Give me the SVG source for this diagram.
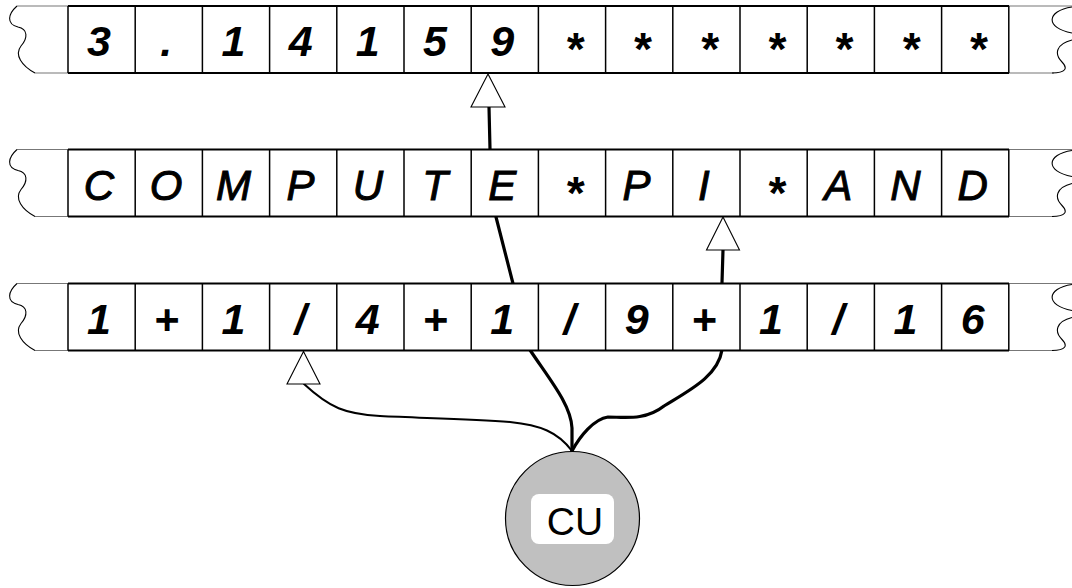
<svg xmlns="http://www.w3.org/2000/svg" width="1072" height="588" viewBox="0 0 1072 588">
<defs>
<style>
.edge{fill:none;stroke:#777;stroke-width:1.2}
.wave{fill:none;stroke:#000;stroke-width:1.1}
.bar{stroke:#000;stroke-width:2}
.d{font-family:"Liberation Sans",Arial,sans-serif;font-size:43px;font-weight:bold;font-style:italic;text-anchor:middle;fill:#000}
.l{font-family:"Liberation Sans",Arial,sans-serif;font-size:42px;font-style:italic;text-anchor:middle;fill:#000;stroke:#000;stroke-width:1}
.ast{font-family:"Liberation Sans",Arial,sans-serif;font-size:46px;font-weight:bold;font-style:italic;text-anchor:middle;fill:#000}
.conn{fill:none;stroke:#000;stroke-linecap:round;stroke-linejoin:round}
.head{fill:#fff;stroke:#000;stroke-width:1.1}
</style>
<g id="tapeShape">
<rect x="17" y="0" width="1055" height="67" fill="#fff"/>
<path class="edge" d="M17,0 L68,0 M35,67 L68,67 M1009,0 L1072,0 M1009,67 L1054,67"/>
<path class="wave" d="M17,0 C8,8 6,18 18,21 C28,23 28,32 21,40 C14,49 22,60 35,67"/>
<path class="wave" d="M1072,1 C1046,5 1045,22 1072,27 M1072,34 C1056,38 1054,48 1062,56 C1068,62 1066,67 1052,67"/>
<g fill="#fff" stroke="#000" stroke-width="1.5">
<path d="M68,0 V67 M135.2,0 V67 M202.4,0 V67 M269.6,0 V67 M336.8,0 V67 M404,0 V67 M471.2,0 V67 M538.4,0 V67 M605.6,0 V67 M672.8,0 V67 M740,0 V67 M807.2,0 V67 M874.4,0 V67 M941.6,0 V67 M1008.8,0 V67"/>
</g>
<path class="bar" d="M68,0 H1009 M68,67 H1009"/>
</g>
</defs>

<g id="connectors">
<path class="conn" stroke-width="3.2" d="M572,451 L572,428 C571,405 550,380 530,350 L496,217 C491,197 490,172 490,149 L489,107"/>
<path class="conn" stroke-width="3.2" d="M572,451 C580,436 594,419 608,417 C624,417 645,421 664,406 C690,390 718,376 722,350 L722,283 L723,250"/>
<path class="conn" stroke-width="2" d="M572,451 C558,432 540,425 510,422 C470,419 420,418 380,416 C345,414 330,408 304,384"/>
<polygon class="head" points="488,74 471,107 505,107"/>
<polygon class="head" points="723,217 706.5,250 739.5,250"/>
<polygon class="head" points="303.5,351.5 287,384 320,384"/>
</g>

<g id="tape1">
<use href="#tapeShape" x="0" y="6"/>
<text class="d" x="99" y="56">3</text>
<text class="d" x="166.2" y="56">.</text>
<text class="d" x="233.4" y="56">1</text>
<text class="d" x="300.6" y="56">4</text>
<text class="d" x="367.8" y="56">1</text>
<text class="d" x="435" y="56">5</text>
<text class="d" x="502.2" y="56">9</text>
<text class="ast" x="574" y="65">*</text>
<text class="ast" x="641.2" y="65">*</text>
<text class="ast" x="708.4" y="65">*</text>
<text class="ast" x="775.6" y="65">*</text>
<text class="ast" x="842.8" y="65">*</text>
<text class="ast" x="910" y="65">*</text>
<text class="ast" x="977.2" y="65">*</text>
</g>

<g id="tape2">
<use href="#tapeShape" x="0" y="149.5"/>
<text class="l" x="99" y="200">C</text>
<text class="l" x="166.2" y="200">O</text>
<text class="l" x="233.4" y="200">M</text>
<text class="l" x="300.6" y="200">P</text>
<text class="l" x="367.8" y="200">U</text>
<text class="l" x="435" y="200">T</text>
<text class="l" x="502.2" y="200">E</text>
<text class="ast" x="574" y="209">*</text>
<text class="l" x="636.6" y="200">P</text>
<text class="l" x="703.8" y="200">I</text>
<text class="ast" x="775.6" y="209">*</text>
<text class="l" x="838.2" y="200">A</text>
<text class="l" x="905.4" y="200">N</text>
<text class="l" x="972.6" y="200">D</text>
</g>

<g id="tape3">
<use href="#tapeShape" x="0" y="283.5"/>
<text class="d" x="99" y="334">1</text>
<text class="d" x="166.2" y="334">+</text>
<text class="d" x="233.4" y="334">1</text>
<text class="d" x="300.6" y="334">/</text>
<text class="d" x="367.8" y="334">4</text>
<text class="d" x="435" y="334">+</text>
<text class="d" x="502.2" y="334">1</text>
<text class="d" x="569.4" y="334">/</text>
<text class="d" x="636.6" y="334">9</text>
<text class="d" x="703.8" y="334">+</text>
<text class="d" x="771" y="334">1</text>
<text class="d" x="838.2" y="334">/</text>
<text class="d" x="905.4" y="334">1</text>
<text class="d" x="972.6" y="334">6</text>
</g>

<g id="cu">
<circle cx="572.5" cy="518.5" r="67" fill="#c0c0c0" stroke="#000" stroke-width="1.2"/>
<rect x="531" y="494" width="83" height="50" rx="8" fill="#fff"/>
<text x="575" y="535" font-family="'Liberation Sans',Arial,sans-serif" font-size="39" text-anchor="middle" fill="#000">CU</text>
</g>
</svg>
